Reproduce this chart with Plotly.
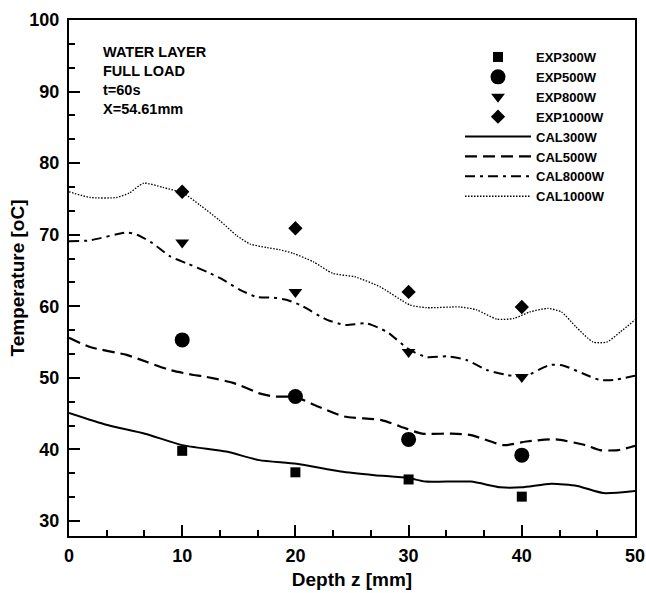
import plotly.graph_objects as go

# Experimental points
z_exp = [10, 20, 30, 40]
exp300 = [39.8, 36.8, 35.8, 33.4]
exp500 = [55.3, 47.4, 41.4, 39.2]
exp800 = [68.9, 62.0, 53.6, 50.1]
exp1000 = [76.0, 70.9, 62.0, 59.9]

# Calculated curves
z_cal300 = [0, 3.4, 6.7, 10, 13.9, 16.8, 20.1, 24, 27, 30, 31.5, 35.5, 38.1, 40, 42.6, 44.9, 47.2, 50]
cal300 = [45.1, 43.4, 42.2, 40.6, 39.7, 38.5, 38.0, 36.9, 36.4, 36.0, 35.5, 35.5, 34.7, 34.7, 35.2, 34.9, 33.9, 34.2]

z_cal500 = [0, 1.85, 5.1, 6.9, 8.9, 11, 11.9, 14.5, 16.9, 18.1, 20, 22, 24.3, 27.6, 29.8, 31.2, 33.8, 35.5,
            38.4, 40.4, 43, 45.6, 46.9, 48.5, 50]
cal500 = [55.6, 54.3, 53.2, 52.2, 51.1, 50.4, 50.2, 49.3, 47.8, 47.4, 47.3, 46.0, 44.6, 44.1, 42.9, 42.2, 42.2, 42.0,
          40.6, 41.1, 41.4, 40.6, 39.9, 39.9, 40.5]

z_cal800 = [0, 1.8, 5.1, 6, 7.4, 8.9, 10.4, 12.2, 13.4, 15.1, 16.6, 18.1, 19.2, 20.4, 22.8, 24.4, 26.3, 28.1,
            30.1, 31.6, 33.4, 35.1, 36.9, 38.7, 40.2, 42.5, 43.7, 45.4, 46.9, 48.1, 50]
cal800 = [69.1, 69.2, 70.3, 70.0, 68.8, 67.0, 66.0, 64.8, 63.9, 62.3, 61.3, 61.2, 60.9, 60.2, 58.1, 57.4, 57.6, 56.4,
          53.9, 52.9, 53.0, 52.5, 51.1, 50.4, 50.2, 51.8, 51.7, 50.6, 49.7, 49.7, 50.3]

z_cal1000 = [0, 1.9, 4.2, 5.3, 6.6, 8.3, 10.1, 11.6, 13.3, 14.8, 16, 17.5, 18.6, 19.8, 21.6, 23.3, 25.3, 27.5,
             30.1, 31.6, 34.5, 36, 37.8, 39.3, 40.7, 42.3, 43.5, 44.8, 46.3, 47.5, 48.7, 50]
cal1000 = [76.0, 75.2, 75.2, 75.8, 77.2, 76.6, 75.8, 74.1, 72.0, 69.9, 68.7, 68.2, 67.9, 67.4, 66.2, 64.6, 64.1, 62.7,
           60.2, 59.8, 59.9, 59.5, 58.2, 58.3, 59.2, 59.7, 59.2, 57.1, 55.0, 55.0, 56.4, 58.1]

info_lines = ["WATER LAYER", "FULL LOAD", "t=60s", "X=54.61mm"]

FONT = "Liberation Sans, Arial, sans-serif"
fig = go.Figure()

fig.add_trace(go.Scatter(x=z_exp, y=exp300, mode="markers", name="EXP300W",
                         marker=dict(symbol="square", size=10, color="black")))
fig.add_trace(go.Scatter(x=z_exp, y=exp500, mode="markers", name="EXP500W",
                         marker=dict(symbol="circle", size=15, color="black")))
fig.add_trace(go.Scatter(x=z_exp, y=exp800, mode="markers", name="EXP800W",
                         marker=dict(symbol="triangle-down", size=12, color="black")))
fig.add_trace(go.Scatter(x=z_exp, y=exp1000, mode="markers", name="EXP1000W",
                         marker=dict(symbol="diamond", size=11, color="black")))

fig.add_trace(go.Scatter(x=z_cal300, y=cal300, mode="lines", name="CAL300W",
                         line=dict(color="black", width=2, shape="spline", smoothing=0.6)))
fig.add_trace(go.Scatter(x=z_cal500, y=cal500, mode="lines", name="CAL500W",
                         line=dict(color="black", width=2.2, dash="12px,6px", shape="spline", smoothing=0.6)))
fig.add_trace(go.Scatter(x=z_cal800, y=cal800, mode="lines", name="CAL8000W",
                         line=dict(color="black", width=2, dash="10px,5px,3px,5px", shape="spline", smoothing=0.6)))
fig.add_trace(go.Scatter(x=z_cal1000, y=cal1000, mode="lines", name="CAL1000W",
                         line=dict(color="black", width=1.3, dash="1.5px,1.5px", shape="spline", smoothing=0.6)))

L, R, T, B = 69, 11, 20, 57
W, H = 646, 593
pw, ph = W - L - R, H - T - B

def px(xp):
    return (xp - L) / pw

def py(yp):
    return (H - B - yp) / ph

fig.add_annotation(text="<br>".join(info_lines), xref="paper", yref="paper", x=px(101), y=py(42),
                   xanchor="left", yanchor="top", align="left", showarrow=False,
                   font=dict(family=FONT, size=14.5, color="black", weight="bold"))

axis_common = dict(showline=True, linecolor="black", linewidth=2, mirror=True,
                   ticks="inside", ticklen=11, tickwidth=2, tickcolor="black",
                   showgrid=False, zeroline=False, automargin=False,
                   tickfont=dict(family=FONT, size=18, color="black", weight="bold"))

fig.update_xaxes(range=[0, 50], dtick=10, tick0=0, ticklabelstandoff=2,
                 minor=dict(dtick=10 / 3, tick0=0, ticks="inside", ticklen=6, tickwidth=1.5, tickcolor="black"),
                 title=dict(text="Depth z [mm]", standoff=8,
                            font=dict(family=FONT, size=19, color="black", weight="bold")),
                 **axis_common)
fig.update_yaxes(range=[27.9, 100], dtick=10, tick0=0, ticklabelstandoff=4,
                 minor=dict(dtick=10 / 3, tick0=0, ticks="inside", ticklen=6, tickwidth=1.5, tickcolor="black"),
                 title=dict(text="Temperature [oC]", standoff=0,
                            font=dict(family=FONT, size=19, color="black", weight="bold")),
                 **axis_common)

fig.update_layout(
    width=W, height=H,
    margin=dict(l=L, r=R, t=T, b=B, pad=0),
    paper_bgcolor="white", plot_bgcolor="white",
    showlegend=True,
    legend=dict(x=px(460), y=py(42), xanchor="left", yanchor="top",
                bgcolor="rgba(0,0,0,0)", borderwidth=0, tracegroupgap=0,
                itemwidth=66,
                font=dict(family=FONT, size=13, color="black", weight="bold")),
)

fig.write_html("out.html")
